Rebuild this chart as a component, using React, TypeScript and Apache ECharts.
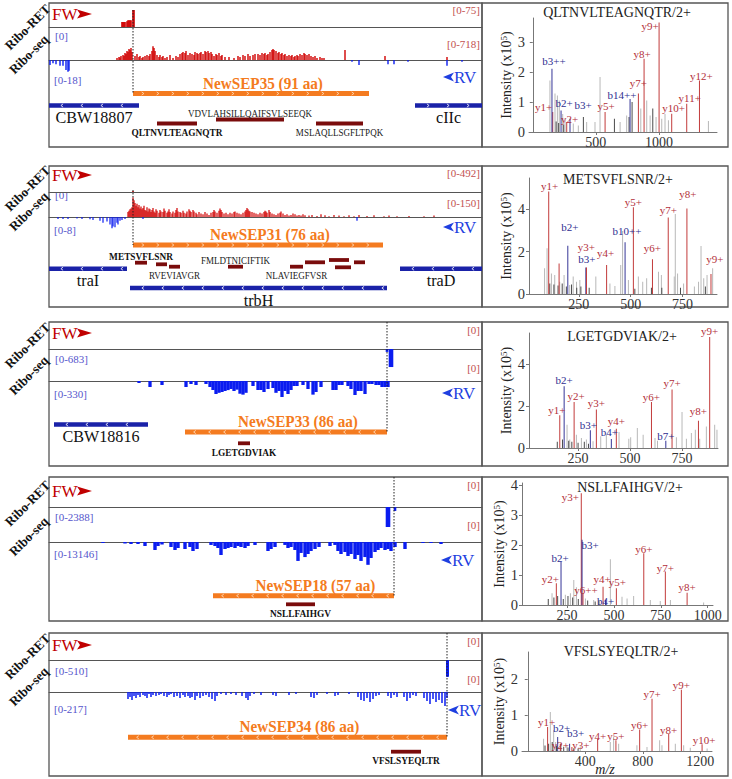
import React, { useEffect, useRef } from "react";
import * as echarts from "echarts";

const FONT = '"Liberation Serif", "Times New Roman", serif';

// ---------------- layout (pixels) ----------------
const LEFT_X = 49;
const MID_X = 482;
const RIGHT_X = 728;
const TRACK_SPAN = 433; // genome window, in positions

const PANEL_LAYOUT = [
  { top: 3, bottom: 147, l1: 27, l2: 60, dotTop: 10, fw: 14, rv: 77, rvX: 443, bTop: 36, bBot: 80, rTop: 10, rBot: 44 },
  { top: 166, bottom: 307, l1: 192, l2: 217, dotTop: 190, fw: 175, rv: 227, rvX: 443, bTop: 195, bBot: 230, rTop: 173, rBot: 203 },
  { top: 322, bottom: 466, l1: 349, l2: 381, dotTop: 322, fw: 333, rv: 393, rvX: 442, bTop: 359, bBot: 394, rTop: 330, rBot: 368 },
  { top: 477, bottom: 621, l1: 507, l2: 542, dotTop: 477, fw: 491, rv: 560, rvX: 441, bTop: 517, bBot: 554, rTop: 485, rBot: 525 },
  { top: 633, bottom: 776, l1: 660, l2: 692, dotTop: 633, fw: 645, rv: 710, rvX: 448, bTop: 671, bBot: 709, rTop: 641, rBot: 679 },
];

// ---------------- track scales ----------------
const SCALE_RET_FW = [75, 492, 0, 0, 0];
const SCALE_RET_RV = [0, 0, 683, 2388, 510];
const SCALE_SEQ_FW = [718, 150, 0, 0, 0];
const SCALE_SEQ_RV = [18, 8, 330, 13146, 217];

// ---------------- coverage tracks [position, reads] ----------------
const P1_RET_FW: [number, number][] = [[73,19],[74,19],[75,19],[76,19],[78,22],[79,25],[80,25],[81,25],[82,25],[84,64],[85,64]];
const P1_SEQ_FW: [number, number][] = [
  [68,50],[70,75],[71,60],[72,100],[74,125],[75,100],[76,175],[77,150],[78,225],[79,200],[80,275],[81,250],[82,300],[83,200],
  [86,100],[88,150],[90,75],[91,100],[93,50],[94,75],[96,100],[98,125],[100,100],[101,150],[103,225],[104,340],[105,300],[106,225],[108,125],
  [110,75],[111,125],[113,75],[114,100],[116,50],[118,75],[121,125],[124,50],[127,100],[129,75],[131,150],[133,175],[134,200],[136,175],[137,225],
  [139,125],[141,175],[143,150],[145,125],[146,200],[148,175],[149,150],[151,175],[152,200],[154,150],[156,225],[157,200],[159,225],[160,175],[162,200],[163,150],
  [165,100],[167,150],[168,125],[170,175],[172,100],[173,125],[176,75],[180,75],
  [185,50],[189,100],[191,75],[194,125],[196,100],[199,150],[201,100],[204,125],[206,150],[209,150],[211,125],[213,175],[215,150],[216,175],[218,125],[219,150],[221,200],[223,250],[224,275],[225,250],[227,225],
  [229,175],[230,200],[232,150],[233,175],[235,125],[236,150],[238,100],[240,125],[242,100],[243,125],[245,75],[246,100],[248,125],[249,100],[251,150],[253,125],[255,175],[256,150],[258,125],[260,150],[262,100],[264,75],[266,100],[268,50],[271,75],[273,50],[275,50],
  [296,250],[336,100],[398,75],
];
const P1_SEQ_RV: [number, number][] = [[1,3],[4,2],[7,2.5],[11,3.5],[14,3.5],[17,6],[19,7],[20,6.5],[303,1],[310,3],[339,2.5],[345,2.5],[359,1],[398,3.5],[413,1]];

const P2_RET_FW: [number, number][] = [[84,25]];
const P2_SEQ_FW: [number, number][] = [
  [79,35],[80,45],[81,55],[82,60],[83,70],[84,140],[85,120],[86,100],[87,80],[88,95],[89,70],[90,85],[91,60],[92,75],[93,55],[94,65],[95,80],[96,50],[97,45],[98,70],[99,40],
  [100,60],[101,55],[102,35],[103,50],[104,65],[105,40],[106,30],[107,55],[108,45],[110,30],[111,50],[112,40],[114,35],[115,60],[116,45],[118,30],[119,40],[120,55],[121,35],
  [123,25],[124,40],[126,30],[127,50],[128,65],[129,40],[131,35],[132,30],[134,45],[135,30],[137,25],[138,40],[140,55],[141,45],[142,35],[144,50],[145,40],[147,30],[148,20],
  [150,35],[152,25],[154,20],[156,35],[158,25],[160,15],[162,30],[164,35],[165,50],[166,40],[168,30],[170,45],[171,60],[172,50],[173,35],[175,25],[177,30],[179,20],
  [181,30],[183,25],[185,35],[186,40],[188,30],[190,25],[192,20],[194,30],[196,40],[197,50],[198,65],[199,55],[200,45],[201,40],[203,35],[205,30],[207,25],[209,20],
  [211,30],[213,25],[215,35],[216,45],[217,40],[218,30],[220,50],[221,35],[223,25],[225,20],[227,15],[229,25],[231,30],[232,40],[234,25],[236,15],[238,20],[240,10],
  [242,15],[244,25],[246,20],[248,10],[250,15],[252,10],[254,20],[256,12],[260,10],[263,15],[268,8],[272,20],[276,12],[280,6],[285,15],[290,10],[295,5],[300,12],
  [305,6],[310,15],[318,8],[325,12],[335,6],[340,10],[348,5],[360,8],[375,5],[385,10],
];
const P2_SEQ_RV: [number, number][] = [[9,0.5],[14,0.5],[19,0.5],[28,0.4],[33,0.5],[41,0.6],[44,0.8],[51,1],[54,1.5],[58,1.2],[61,2],[63,3],[64,2.5],[66,2.7],[68,1.5],[69,2],[71,1],[73,0.8],[76,0.5],[94,0.5],[308,1]];

const P3_RET_RV: [number, number][] = [[338,90],[341,560],[343,560]];
const P3_SEQ_RV: [number, number][] = [
  [90,22],[101,66],[113,44],[137,66],[142,33],[147,44],[157,33],[161,66],[164,99],[167,143],[170,130],[173,121],[176,110],[179,100],[182,88],[185,110],
  [188,95],[191,140],[194,150],[197,130],[204,55],[209,99],[212,99],[215,121],[219,88],[224,77],[227,130],[230,110],[233,176],[236,110],[239,143],[242,99],
  [245,55],[248,55],[254,44],[259,88],[264,150],[267,121],[272,66],[284,99],[287,99],[290,44],[293,44],[299,55],[302,88],[306,154],[309,110],[312,110],
  [316,143],[320,33],[323,33],[327,44],[330,44],[333,66],[336,66],[339,66],
];

const P4_RET_RV: [number, number][] = [[338,2170],[340,2170],[346,430]];
const P4_SEQ_RV: [number, number][] = [
  [54,440],[76,660],[82,880],[89,880],[96,1750],[106,3500],[109,1750],[113,1100],[122,2200],[126,3500],[129,2630],[136,3070],[141,2200],[144,3940],[148,3070],
  [162,1300],[166,1750],[169,2630],[172,5700],[176,3070],[179,2630],[182,2200],[186,2630],[189,1750],[192,2200],[196,2630],[199,1750],[206,1300],
  [219,3940],[222,3070],[226,2200],[236,1300],[239,2630],[242,2200],[246,3500],[249,8300],[252,4800],[256,6600],[259,5250],[262,3940],[266,3070],[270,2200],
  [281,1750],[286,1300],[289,3940],[292,5250],[296,4380],[299,6130],[302,5250],[306,7450],[309,5700],[312,8300],[316,6600],[319,10000],[322,7000],
  [326,4380],[329,3500],[332,2630],[336,3500],[339,3070],[342,3940],[346,2200],[356,3070],[374,440],[382,440],[392,880],
];

const P5_RET_RV: [number, number][] = [[398,390],[399,390]];
const P5_SEQ_RV: [number, number][] = [
  [79,50],[81,36],[83,58],[85,29],[87,43],[89,22],[91,36],[94,22],[96,29],[98,43],[100,14],[102,36],[104,22],[107,29],[110,22],[112,14],[115,29],[118,36],
  [120,22],[122,14],[125,36],[128,29],[131,43],[134,22],[136,36],[139,29],[141,43],[143,36],[146,58],[148,29],[151,43],[154,29],[157,22],[160,36],[163,50],
  [166,65],[168,29],[172,14],[177,22],[182,14],[187,22],[193,29],[197,43],[199,58],[201,29],[205,14],[212,22],[224,22],[227,29],[240,22],[247,14],[262,36],
  [265,43],[268,22],[278,14],[286,29],[289,22],[300,14],[309,36],[312,58],[315,65],[318,43],[321,72],[324,50],[327,29],[330,22],[339,29],[342,43],[345,22],
  [348,36],[355,36],[358,65],[361,43],[364,22],[367,29],[375,43],[378,65],[381,86],[384,50],[387,72],[390,58],[393,79],[396,101],[398,43],
];

const EMPTY: [number, number][] = [];
const RET_FW = [P1_RET_FW, P2_RET_FW, EMPTY, EMPTY, EMPTY];
const RET_RV = [EMPTY, EMPTY, P3_RET_RV, P4_RET_RV, P5_RET_RV];
const SEQ_FW = [P1_SEQ_FW, P2_SEQ_FW, EMPTY, EMPTY, EMPTY];
const SEQ_RV = [P1_SEQ_RV, P2_SEQ_RV, P3_SEQ_RV, P4_SEQ_RV, P5_SEQ_RV];
const BAR_W = [
  { ret: 1.6, seq: 1.4 },
  { ret: 1.6, seq: 1.2 },
  { ret: 2.6, seq: 3.3 },
  { ret: 2.6, seq: 3.4 },
  { ret: 2.0, seq: 1.5 },
];

// ---------------- features: [name, start, end, lane, kind, strand, labelSide] ----------------
type Feat = [string, number, number, number, string, number, string];
const P1_FEATURES: Feat[] = [
  ["NewSEP35 (91 aa)", 84, 320, 33.5, "orf", 1, "above"],
  ["CBW18807", 0, 90, 45.5, "gene", -1, "below"],
  ["cIIc", 366, 433, 45.5, "gene", 1, "below"],
  ["QLTNVLTEAGNQTR", 108, 148, 63.5, "pepId", 0, "below"],
  ["VDVLAHSILLQAIFSVLSEEQK", 167, 235, 59.5, "pep", 0, "above"],
  ["MSLAQLLSGFLTPQK", 267, 314, 63.5, "pep", 0, "below"],
];
const P2_FEATURES: Feat[] = [
  ["NewSEP31 (76 aa)", 84, 334, 28, "orf", 1, "above"],
  ["traI", 0, 78, 51.7, "gene", -1, "below"],
  ["trbH", 81, 338, 71, "gene", -1, "below"],
  ["traD", 351, 433, 51.7, "gene", -1, "below"],
  ["METSVFLSNR", 86, 98, 45.7, "pepId", 0, "above"],
  ["", 107, 118, 47.3, "pep", 0, ""],
  ["RVEVIAVGR", 120, 131, 49.7, "pep", 0, "below"],
  ["FMLDTNICIFTIK", 179, 194, 49.7, "pep", 0, "above"],
  ["NLAVIEGFVSR", 241, 254, 49.7, "pep", 0, "below"],
  ["", 256, 276, 45.3, "pep", 0, ""],
  ["", 280, 300, 43, "pep", 0, ""],
  ["", 286, 302, 50.3, "pep", 0, ""],
  ["", 305, 316, 45.3, "pep", 0, ""],
];
const P3_FEATURES: Feat[] = [
  ["NewSEP33 (86 aa)", 136, 338, 51, "orf", -1, "above"],
  ["CBW18816", 5, 99, 43.5, "gene", -1, "below"],
  ["LGETGDVIAK", 189, 201, 62.3, "pepId", 0, "below"],
];
const P4_FEATURES: Feat[] = [
  ["NewSEP18 (57 aa)", 164, 345, 53.7, "orf", -1, "above"],
  ["NSLLFAIHGV", 237, 266, 62.3, "pepId", 0, "below"],
];
const P5_FEATURES: Feat[] = [
  ["NewSEP34 (86 aa)", 79, 398, 45.3, "orf", -1, "above"],
  ["VFSLSYEQLTR", 342, 372, 59.7, "pepId", 0, "below"],
];
const FEATURES = [P1_FEATURES, P2_FEATURES, P3_FEATURES, P4_FEATURES, P5_FEATURES];

// ---------------- spectra ----------------
type Frag = [number, number, string];
const S1_FRAG: Frag[] = [[158,0.67,"y1+"],[152,2.11,"b3++"],[224,0.72,"b2+"],[269,0.33,"y2+"],[295,0.44,"b3+"],[573,0.67,"y5+"],[771,1.1,"b14++"],[837,1.28,"y7+"],[882,2.44,"y8+"],[1001,3.65,"y9+"],[1101,0.61,"y10+"],[1220,0.94,"y11+"],[1321,1.72,"y12+"]];
const S1_NOISE: [number, number][] = [[136,1.72],[176,1.28],[195,1.22],[210,1.05],[237,0.6],[256,0.45],[321,0.28],[361,0.22],[427,0.33],[493,0.33],[533,1.83],[692,0.33],[744,0.55],[856,0.78],[903,1.05],[930,0.55],[977,0.5],[1022,0.44],[1048,0.6],[1075,0.39],[1392,0.37]];
const S1_DARK: [number, number][] = [[401,0.5],[647,0.44],[763,0.5],[787,1.0],[951,0.78],[185,0.35],[205,0.3],[245,0.25]];

const S2_FRAG: Frag[] = [[105,4.82,"y1+"],[155,1.44,""],[197,2.27,"b2+"],[284,1.25,"b3+"],[287,1.25,"y3+"],[384,1.36,"y4+"],[473,2.43,"b10++"],[513,4.08,"y5+"],[605,1.63,"y6+"],[681,3.6,"y7+"],[771,4.03,"y8+"],[887,0.94,"y9+"]];
const S2_NOISE: [number, number][] = [[85,1.21],[97,2.15],[118,0.97],[134,0.89],[158,0.58],[179,0.89],[206,0.42],[223,0.82],[239,0.58],[255,0.66],[332,0.82],[400,0.5],[424,0.38],[452,1.36],[461,2.96],[489,0.66],[537,0.82],[558,0.58],[577,0.74],[634,1.05],[648,0.89],[710,0.82],[715,3.76],[726,0.97],[755,0.5],[807,0.35],[827,0.58],[839,2.26],[852,0.74],[868,0.89],[895,1.21]];
const S2_DARK: [number, number][] = [[110,0.5],[130,0.45],[150,0.4],[170,0.5],[190,0.35],[215,0.45],[240,0.3],[260,0.35],[300,0.3],[520,0.25],[600,0.3],[650,0.3],[740,0.3],[860,0.35]];

const S3_FRAG: Frag[] = [[162,1.56,"y1+"],[183,2.94,"b2+"],[231,2.19,"y2+"],[309,0.84,"b3+"],[338,1.84,"y3+"],[410,0.43,"b4+"],[434,0.92,"y4+"],[603,2.19,"y6+"],[672,0.35,"b7+"],[702,2.79,"y7+"],[829,1.3,"y8+"],[883,5.29,"y9+"]];
const S3_NOISE: [number, number][] = [[197,1.11],[210,0.4],[242,0.63],[266,0.48],[290,0.4],[322,0.32],[359,0.56],[386,0.63],[447,0.76],[494,0.44],[503,0.51],[535,0.95],[563,0.63],[620,0.48],[632,0.35],[723,0.51],[750,1.71],[771,0.44],[795,0.71],[814,0.87],[835,0.44],[867,1.03],[907,1.11],[918,0.87]];
const S3_DARK: [number, number][] = [[150,0.3],[175,0.4],[205,0.35],[220,0.3],[250,0.25],[280,0.3],[300,0.2]];

const S4_FRAG: Frag[] = [[193,0.73,"y2+"],[218,1.45,"b2+"],[326,3.74,"y3+"],[330,2.18,"b3+"],[335,0.4,"y6++"],[442,0.61,"y4+"],[455,0.17,"b4+"],[513,0.56,"y5+"],[659,1.73,"y6+"],[774,1.12,"y7+"],[890,0.41,"y8+"]];
const S4_NOISE: [number, number][] = [[170,0.39],[241,0.34],[268,0.39],[286,0.84],[300,0.59],[348,0.22],[392,0.17],[481,1.53],[543,0.28],[570,0.22],[605,0.3],[694,0.17],[747,0.13],[801,0.17],[978,0.08]];
const S4_DARK: [number, number][] = [[150,0.2],[180,0.25],[200,0.3],[230,0.2],[255,0.3],[280,0.25],[310,0.2],[360,0.15],[400,0.12],[420,0.15]];

const S5_FRAG: Frag[] = [[138,0.67,"y1+"],[208,0.39,"b2+"],[226,0.2,"y2+"],[291,0.2,"b3+"],[307,0.11,"y3+"],[486,0.34,"y4+"],[613,0.3,"y5+"],[778,0.6,"y6+"],[864,1.46,"y7+"],[980,0.48,"y8+"],[1068,1.71,"y9+"],[1212,0.19,"y10+"]];
const S5_NOISE: [number, number][] = [[110,0.34],[157,1.09],[180,0.58],[194,0.25],[272,0.16],[365,0.13],[574,0.25],[597,0.39],[632,0.2],[759,0.16],[829,0.11],[917,0.3],[933,0.16],[1026,0.2],[1084,0.16],[1130,0.09],[1247,0.07]];
const S5_DARK: [number, number][] = [[120,0.15],[145,0.2],[170,0.25],[200,0.15],[230,0.2],[250,0.12],[280,0.1],[320,0.08],[350,0.07]];

const SPEC_FRAG = [S1_FRAG, S2_FRAG, S3_FRAG, S4_FRAG, S5_FRAG];
const SPEC_NOISE = [S1_NOISE, S2_NOISE, S3_NOISE, S4_NOISE, S5_NOISE];
const SPEC_DARK = [S1_DARK, S2_DARK, S3_DARK, S4_DARK, S5_DARK];
const SPEC_TITLES = ["QLTNVLTEAGNQTR/2+", "METSVFLSNR/2+", "LGETGDVIAK/2+", "NSLLFAIHGV/2+", "VFSLSYEQLTR/2+"];
const SPEC_X_TICKS = [[500, 1000], [250, 500, 750], [250, 500, 750], [250, 500, 750, 1000], [400, 800, 1200]];
const SPEC_Y_TICKS = [[0, 1, 2, 3], [0, 2, 4], [0, 2, 4], [0, 1, 2, 3, 4], [0, 1, 2]];

const SPEC_LAYOUT = [
  { left: 529, top: 18, width: 188, height: 114, xMin: -30, xMax: 1460, yMax: 3.8, titleX: 617, titleY: 12 },
  { left: 529, top: 178, width: 188, height: 116, xMin: 10, xMax: 916, yMax: 5.46, titleX: 618, titleY: 179 },
  { left: 529, top: 333, width: 189, height: 115, xMin: 14, xMax: 923, yMax: 5.48, titleX: 622, titleY: 336 },
  { left: 522, top: 483, width: 191, height: 122, xMin: 10, xMax: 1028, yMax: 4.08, titleX: 630, titleY: 487 },
  { left: 522, top: 652, width: 190, height: 99, xMin: -40, xMax: 1281, yMax: 2.76, titleX: 621, titleY: 651 },
];

// label nudges [dx, dy] per spectrum and ion
const LABEL_NUDGE: Record<string, [number, number]>[] = [
  { "y1+": [-9, 1], "y2+": [3, 2], "b3++": [2, -2], "b2+": [3, -2], "b3+": [13, -8], "y5+": [1, 0], "b14++": [-8, 1], "y7+": [0, -5], "y8+": [-2, 1], "y9+": [-9, 9], "y10+": [2, 0], "y11+": [3, 0], "y12+": [2, 1] },
  { "y1+": [1, 0], "b2+": [2, -13], "y3+": [0, -15], "b3+": [1, -3], "y4+": [-1, -7], "b10++": [2, -6], "y5+": [0, 0], "y6+": [0, -6], "y7+": [0, -2], "y8+": [1, -9], "y9+": [4, -10] },
  { "y1+": [-3, 0], "b2+": [0, -1], "y2+": [2, -1], "y3+": [0, -1], "b3+": [-2, 0], "y4+": [0, -2], "b4+": [-2, -1], "y6+": [0, 0], "b7+": [0, 1], "y7+": [0, -1], "y8+": [0, -4], "y9+": [0, 0] },
  { "y2+": [-6, 1], "b2+": [-1, 2], "y3+": [-11, 9], "b3+": [8, 11], "y6++": [3, 2], "y4+": [-1, -2], "y5+": [1, -1], "b4+": [0, 7], "y6+": [0, 1], "y7+": [0, 2], "y8+": [0, 0] },
  { "y1+": [-1, 1], "b2+": [4, -4], "y2+": [0, 7], "b3+": [6, -5], "y3+": [9, 3], "y4+": [0, 3], "y5+": [0, 1], "y6+": [0, 1], "y7+": [0, 1], "y8+": [0, 2], "y9+": [0, 1], "y10+": [2, 1] },
];

// ---------------- colours ----------------
const C_TRACK_RED = "#d00000";
const C_TRACK_BLUE = "#0a1cf0";
const C_GENE = "#1a22a8";
const C_ORF = "#f47b20";
const C_PEP = "#7a0c0c";
const C_LINE = "#555555";
const C_Y = "#c23b3b";
const C_B = "#353597";
const C_GRAY = "#b8b8b8";
const C_DARK = "#4a4a4a";

const FEATURE_STYLE: Record<string, any> = {
  orf: { h: 5, color: C_ORF, mark: "#fde2c8", spacing: 15, font: `bold 16px ${FONT}`, text: C_ORF, sx: 0.95, gapAbove: 10.5, gapBelow: 12, dx: 12 },
  gene: { h: 4.5, color: C_GENE, mark: "#ffffff", spacing: 20, font: `17px ${FONT}`, text: "#111", sx: 0.95, gapAbove: 10, gapBelow: 12, dx: 0 },
  pep: { h: 3.8, color: C_PEP, font: `11px ${FONT}`, text: "#222", sx: 0.82, gapAbove: 6.5, gapBelow: 8.5, dx: 0 },
  pepId: { h: 3.8, color: C_PEP, font: `bold 11px ${FONT}`, text: "#111", sx: 0.85, gapAbove: 6.5, gapBelow: 9, dx: 0 },
};

function scaleText(s: number) {
  return s ? `[0-${s}]` : "[0]";
}

function makeRenderItem(feats: Feat[]) {
  return (params: any, api: any) => {
    const f = feats[params.dataIndex];
    const [name, , , , kind, strand, side] = f;
    const a = api.coord([api.value(0), api.value(2)]);
    const b = api.coord([api.value(1), api.value(2)]);
    const st = FEATURE_STYLE[kind];
    const children: any[] = [
      { type: "rect", shape: { x: a[0], y: a[1] - st.h / 2, width: b[0] - a[0], height: st.h }, style: { fill: st.color } },
    ];
    if (strand) {
      for (let x = a[0] + st.spacing * 0.65; x < b[0] - 3; x += st.spacing) {
        const d = strand > 0 ? 1 : -1;
        children.push({
          type: "polyline",
          shape: { points: [[x - 1.1 * d, a[1] - 1.6], [x + 1.1 * d, a[1]], [x - 1.1 * d, a[1] + 1.6]] },
          style: { stroke: st.mark, lineWidth: 0.8, fill: "none" },
        });
      }
    }
    if (name) {
      const y = side === "above" ? a[1] - st.gapAbove : a[1] + st.gapBelow;
      children.push({
        type: "text",
        x: (a[0] + b[0]) / 2 + st.dx,
        y,
        scaleX: st.sx,
        style: { text: name, font: st.font, fill: st.text, align: "center", verticalAlign: "middle" },
      });
    }
    return { type: "group", children };
  };
}

// row labels drawn as names of tiny invisible y axes (rotated 45°, right-aligned at their end point)
const ROW_LABELS: [string, number, number][] = [["Ribo-RET", 48, -24], ["Ribo-seq", 46, -23]];

function buildOption() {
  const grid: any[] = [];
  const xAxis: any[] = [];
  const yAxis: any[] = [];
  const series: any[] = [];
  const graphic: any[] = [];

  const hiddenX = (gi: number, showLine: boolean) => ({
    gridIndex: gi, type: "value", min: 0, max: TRACK_SPAN,
    axisLine: { show: showLine, onZero: false, lineStyle: { color: C_LINE, width: 1 } },
    axisTick: { show: false }, axisLabel: { show: false }, splitLine: { show: false },
  });
  const hiddenY = (gi: number, max: number, inverse: boolean) => ({
    gridIndex: gi, type: "value", min: 0, max: max || 1, inverse, show: false, splitLine: { show: false },
  });

  PANEL_LAYOUT.forEach((L, p) => {
    const tracks = [
      { top: L.top + 4, height: L.l1 - L.top - 4, inv: false, max: SCALE_RET_FW[p], data: RET_FW[p], color: C_TRACK_RED, line: true, bw: BAR_W[p].ret },
      { top: L.l1, height: 22, inv: true, max: SCALE_RET_RV[p], data: RET_RV[p], color: C_TRACK_BLUE, line: false, bw: BAR_W[p].ret },
      { top: L.l1 + 4, height: L.l2 - L.l1 - 4, inv: false, max: SCALE_SEQ_FW[p], data: SEQ_FW[p], color: C_TRACK_RED, line: true, bw: BAR_W[p].seq },
      { top: L.l2, height: 30, inv: true, max: SCALE_SEQ_RV[p], data: SEQ_RV[p], color: C_TRACK_BLUE, line: false, bw: BAR_W[p].seq },
    ];
    tracks.forEach((t) => {
      const gi = grid.length;
      grid.push({ left: LEFT_X, width: TRACK_SPAN, top: t.top, height: t.height });
      xAxis.push(hiddenX(gi, t.line));
      yAxis.push(hiddenY(gi, t.max, t.inv));
      series.push({
        type: "bar", xAxisIndex: gi, yAxisIndex: gi, data: t.data, barWidth: t.bw,
        itemStyle: { color: t.color }, silent: true, z: 3,
      });
    });

    const ai = grid.length;
    grid.push({ left: LEFT_X, width: TRACK_SPAN, top: L.l2, height: L.bottom - L.l2 });
    xAxis.push(hiddenX(ai, false));
    yAxis.push(hiddenY(ai, L.bottom - L.l2, true));
    const feats = FEATURES[p];
    series.push({
      type: "custom", xAxisIndex: ai, yAxisIndex: ai, silent: true, z: 5, clip: false,
      data: feats.map((f) => [f[1], f[2], f[3]]),
      encode: { x: [0, 1], y: 2 },
      renderItem: makeRenderItem(feats),
    });

    // rotated row labels
    ROW_LABELS.forEach(([txt, endX, endDy], k) => {
      const endY = (k === 0 ? L.l1 : L.l2) + endDy;
      const gi = grid.length;
      grid.push({ left: endX, width: 2, top: endY - 5, height: 10 });
      xAxis.push({ gridIndex: gi, type: "value", show: false });
      yAxis.push({
        gridIndex: gi, type: "value", show: true,
        axisLine: { show: false }, axisTick: { show: false }, axisLabel: { show: false }, splitLine: { show: false },
        name: txt, nameLocation: "middle", nameRotate: 45, nameGap: 0,
        nameTextStyle: { fontFamily: FONT, fontWeight: "bold", fontSize: 13, color: "#111" },
      });
    });

    const orf = feats.find((f) => f[4] === "orf")!;
    const startPos = orf[5] > 0 ? orf[1] : orf[2];
    const dx = LEFT_X + startPos;
    graphic.push({
      type: "line", z: 10, silent: true,
      shape: { x1: dx, y1: L.dotTop, x2: dx, y2: L.l2 + orf[3] },
      style: { stroke: "#222", lineWidth: 1, lineDash: [1.5, 1.5] },
    });

    graphic.push({ type: "rect", silent: true, shape: { x: LEFT_X, y: L.top, width: MID_X - LEFT_X, height: L.bottom - L.top }, style: { fill: "none", stroke: "#555", lineWidth: 1.3 } });
    graphic.push({ type: "rect", silent: true, shape: { x: MID_X, y: L.top, width: RIGHT_X - MID_X, height: L.bottom - L.top }, style: { fill: "none", stroke: "#555", lineWidth: 1.3 } });

    graphic.push({ type: "text", silent: true, x: 52, y: L.fw, style: { text: "FW", font: `17px ${FONT}`, fill: "#c00000", align: "left", verticalAlign: "middle" } });
    graphic.push({ type: "polygon", silent: true, shape: { points: [[77, L.fw - 4.5], [92, L.fw], [77, L.fw + 4.5], [80, L.fw]] }, style: { fill: "#c00000" } });
    graphic.push({ type: "polygon", silent: true, shape: { points: [[L.rvX + 11, L.rv - 4.5], [L.rvX, L.rv], [L.rvX + 11, L.rv + 4.5], [L.rvX + 8, L.rv]] }, style: { fill: "#1f3fe0" } });
    graphic.push({ type: "text", silent: true, x: L.rvX + 11, y: L.rv, style: { text: "RV", font: `17px ${FONT}`, fill: "#1f3fe0", align: "left", verticalAlign: "middle" } });

    graphic.push({ type: "text", silent: true, x: 55, y: L.bTop, style: { text: scaleText(SCALE_RET_RV[p]), font: `11px ${FONT}`, fill: "#5555cc", align: "left", verticalAlign: "middle" } });
    graphic.push({ type: "text", silent: true, x: 54, y: L.bBot, style: { text: scaleText(SCALE_SEQ_RV[p]), font: `11px ${FONT}`, fill: "#5555cc", align: "left", verticalAlign: "middle" } });
    graphic.push({ type: "text", silent: true, x: 480, y: L.rTop, style: { text: scaleText(SCALE_RET_FW[p]), font: `11px ${FONT}`, fill: "#c25050", align: "right", verticalAlign: "middle" } });
    graphic.push({ type: "text", silent: true, x: 480, y: L.rBot, style: { text: scaleText(SCALE_SEQ_FW[p]), font: `11px ${FONT}`, fill: "#c25050", align: "right", verticalAlign: "middle" } });

    // spectrum
    const S = SPEC_LAYOUT[p];
    const si = grid.length;
    grid.push({ left: S.left, top: S.top, width: S.width, height: S.height });
    xAxis.push({
      gridIndex: si, type: "value", min: S.xMin, max: S.xMax,
      axisLine: { show: true, onZero: false, lineStyle: { color: "#777", width: 1 } },
      axisTick: { show: true, customValues: SPEC_X_TICKS[p], length: 3, lineStyle: { color: "#777" } },
      axisLabel: { customValues: SPEC_X_TICKS[p], formatter: (v: number) => String(v), fontFamily: FONT, fontSize: 14, color: "#333", margin: 3 },
      splitLine: { show: false },
    });
    yAxis.push({
      gridIndex: si, type: "value", min: 0, max: S.yMax,
      axisLine: { show: true, lineStyle: { color: "#777", width: 1 } },
      axisTick: { show: true, customValues: SPEC_Y_TICKS[p], length: 3, lineStyle: { color: "#777" } },
      axisLabel: { customValues: SPEC_Y_TICKS[p], formatter: (v: number) => String(v), fontFamily: FONT, fontSize: 14.5, color: "#333", margin: 4 },
      splitLine: { show: false },
      name: "Intensity (x10{s|5})", nameLocation: "middle", nameGap: 13, nameRotate: 90,
      nameTextStyle: { fontFamily: FONT, fontSize: 14, color: "#222", rich: { s: { fontSize: 9, verticalAlign: "top", fontFamily: FONT, color: "#222" } } },
    });
    const nudge = LABEL_NUDGE[p];
    const peaks: any[] = [];
    SPEC_NOISE[p].forEach((d) => peaks.push({ value: d, itemStyle: { color: C_GRAY } }));
    SPEC_DARK[p].forEach((d) => peaks.push({ value: d, itemStyle: { color: C_DARK } }));
    SPEC_FRAG[p].forEach(([mz, h, ion]) => {
      const isB = ion.startsWith("b");
      const col = isB ? C_B : C_Y;
      const nd = nudge[ion] || [0, 0];
      peaks.push({
        value: [mz, h],
        itemStyle: { color: col },
        label: ion
          ? { show: true, position: "top", distance: 0, formatter: ion, color: isB ? "#2e2e90" : "#b3303a", fontFamily: FONT, fontSize: 11, offset: nd }
          : { show: false },
      });
    });
    series.push({ type: "bar", xAxisIndex: si, yAxisIndex: si, data: peaks, barWidth: 1, silent: true, z: 4 });

    graphic.push({ type: "text", silent: true, x: S.titleX, y: S.titleY, style: { text: SPEC_TITLES[p], font: `14px ${FONT}`, fill: "#222", align: "center", verticalAlign: "middle" } });
  });

  graphic.push({ type: "text", silent: true, x: 605, y: 769, style: { text: "m/z", font: `italic 14px ${FONT}`, fill: "#222", align: "center", verticalAlign: "middle" } });

  return { animation: false, backgroundColor: "#ffffff", grid, xAxis, yAxis, series, graphic };
}

export default function App() {
  const ref = useRef<HTMLDivElement>(null);
  useEffect(() => {
    const chart = echarts.init(ref.current!, null, { renderer: "svg", width: 732, height: 779 });
    chart.setOption(buildOption() as any);
    return () => chart.dispose();
  }, []);
  return <div ref={ref} style={{ position: "absolute", left: 0, top: 0, width: 732, height: 779, background: "#fff" }} />;
}
